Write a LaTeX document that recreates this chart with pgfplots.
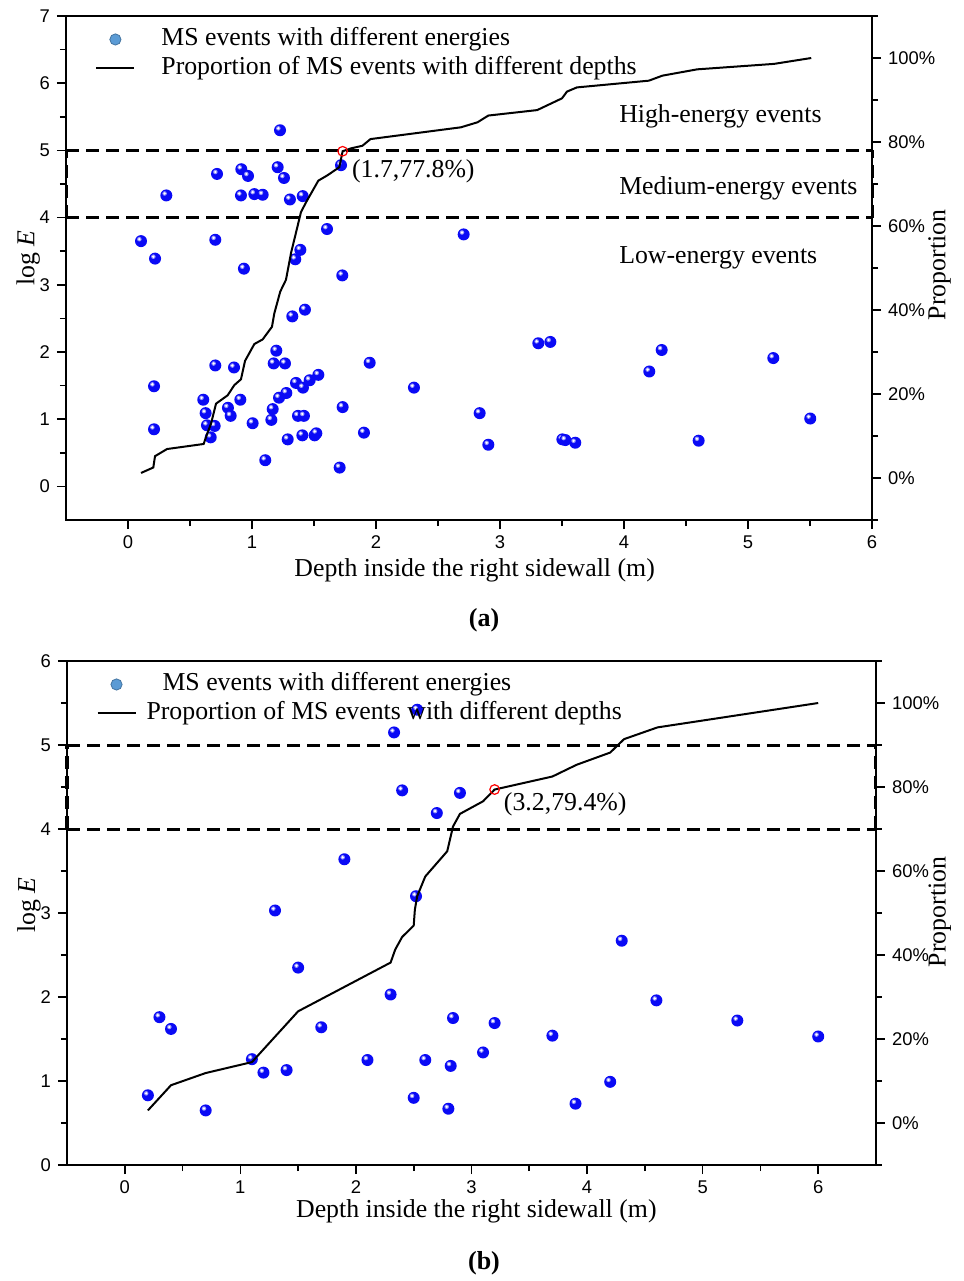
\documentclass[border=0pt]{standalone}
\usepackage{fontspec}
\setmainfont{Liberation Serif}
\newfontfamily\tickfont{Liberation Sans}
\usepackage{pgfplots}
\pgfplotsset{compat=1.18}
\definecolor{steelblue}{RGB}{91,155,213}
\definecolor{ballblue}{RGB}{10,10,245}
\newcommand{\txt}{\fontsize{12.9}{15}\selectfont}
\makeatletter
\pgfdeclareplotmark{sball}{%
  \pgfpathcircle{\pgfpointorigin}{\pgfplotmarksize}%
  \pgfsetfillcolor{ballblue}\pgfusepath{fill}%
  \pgfpathcircle{\pgfpoint{-0.28\pgfplotmarksize}{0.32\pgfplotmarksize}}{0.38\pgfplotmarksize}%
  \pgfsetfillcolor{ballblue!45!white}\pgfusepath{fill}%
  \pgfpathcircle{\pgfpoint{-0.28\pgfplotmarksize}{0.32\pgfplotmarksize}}{0.22\pgfplotmarksize}%
  \pgfsetfillcolor{white}\pgfusepath{fill}%
}
\makeatother
\pgfplotsset{
  base/.style={
    scale only axis,
    tick align=outside,
    /pgf/number format/assume math mode=true,
    tick label style={font=\tickfont\fontsize{9.2}{11}\selectfont, text=black},
    label style={font=\txt},
    axis line style={line width=0.8pt},
    major tick length=4.5pt, minor tick length=3pt,
    every tick/.style={black, line width=0.8pt},
  },
  balls/.style={only marks, mark=sball, mark size=3pt},
  thr/.style={black, line width=1.5pt, dash pattern=on 6.3pt off 3.7pt},
  leg/.style={legend style={at={(axis description cs:0.036,0.983)}, anchor=north west, draw=none, fill=none,
    font=\txt, inner sep=0pt, column sep=11.5pt, row sep=0pt, cells={anchor=west},
    nodes={inner sep=1.5pt, text height=9pt, text depth=2.5pt}}},
  scatimg/.style={legend image code/.code={\fill[fill=steelblue, draw=steelblue!75!black] (9.5pt,0pt) circle (2.8pt);}},
  lineimg/.style={legend image code/.code={\draw[black, line width=1pt] (0pt,0pt) -- (19pt,0pt);}},
}
\begin{document}
\begin{tikzpicture}
\useasboundingbox (0pt,0pt) rectangle (482pt,-640.5pt);
% ================= Panel (a) =================
\begin{axis}[base, at={(33pt,-260pt)}, anchor=south west, width=403pt, height=252pt,
  xmin=-0.5, xmax=6, ymin=-0.5, ymax=7, clip=false,
  xtick={0,...,6}, ytick={0,...,7}, minor x tick num=1, minor y tick num=1,
  xtick pos=left, ytick pos=left,
  xlabel={Depth inside the right sidewall (m)}, ylabel={log \textit{E}},
  xlabel style={at={(axis description cs:0.507,-0.099)}, anchor=center},
  ylabel style={at={(axis description cs:-0.047,0.52)}, anchor=center},
]
\addplot[balls] coordinates {
(0.105,3.65)(0.218,3.39)(0.309,4.33)(0.21,1.49)(0.21,0.85)
(0.607,1.29)(0.626,1.09)(0.637,0.91)(0.699,0.90)(0.667,0.73)
(0.704,3.67)(0.704,1.80)(0.718,4.65)(0.806,1.17)(0.828,1.05)(0.855,1.77)(0.906,1.29)(0.911,4.33)
(0.914,4.72)(0.935,3.24)(0.968,4.62)(1.005,0.94)(1.019,4.35)(1.086,4.34)(1.107,0.39)(1.156,0.99)
(1.167,1.15)(1.175,1.83)(1.196,2.02)(1.207,4.75)(1.218,1.32)(1.226,5.30)(1.258,4.59)(1.266,1.83)
(1.277,1.39)(1.288,0.70)(1.306,4.27)(1.325,2.53)(1.349,3.38)(1.355,1.54)(1.371,1.05)(1.390,3.52)
(1.406,0.76)(1.409,4.32)(1.411,1.47)(1.419,1.05)(1.427,2.63)(1.465,1.58)(1.505,0.76)(1.519,0.79)
(1.535,1.66)(1.605,3.83)(1.707,0.28)(1.718,4.78)(1.728,3.14)(1.731,1.18)(1.903,0.80)(1.949,1.84)
(2.306,1.47)(2.707,3.75)(2.836,1.09)(2.906,0.62)(3.309,2.13)(3.406,2.15)(3.503,0.70)(3.527,0.69)
(3.607,0.65)(4.204,1.71)(4.304,2.03)(4.602,0.68)(5.204,1.91)(5.502,1.01)
};
\addplot[thr] coordinates {(-0.5,5) (6,5)};
\addplot[thr] coordinates {(-0.5,4) (6,4)};
\addplot[thr] coordinates {(-0.5,4) (-0.5,5)};
\addplot[thr] coordinates {(6,4) (6,5)};
\node[anchor=west, font=\txt] at (axis cs:3.905,5.5) {High-energy events};
\node[anchor=west, font=\txt] at (axis cs:3.905,4.43) {Medium-energy events};
\node[anchor=west, font=\txt] at (axis cs:3.905,3.40) {Low-energy events};
\node[anchor=west, font=\txt] at (axis cs:1.75,4.69) {(1.7,77.8\%)};
\end{axis}
\begin{axis}[base, leg, at={(33pt,-260pt)}, anchor=south west, width=403pt, height=252pt,
  xmin=-0.5, xmax=6, ymin=-10, ymax=110,
  axis x line=none, axis y line*=right,
  ytick={0,20,...,100}, minor ytick={-10,10,30,50,70,90,110},
  yticklabel={\pgfmathprintnumber{\tick}\%},
  ylabel={Proportion},
  ylabel style={at={(axis description cs:1.084,0.506)}, anchor=center},
]
\addlegendimage{scatimg}
\addlegendentry{MS events with different energies}
\addplot[black, line width=1pt, lineimg] coordinates {
(0.105,1.2)(0.204,2.5)(0.218,5.2)(0.315,6.9)(0.61,8.1)(0.643,10.9)(0.669,12.9)(0.71,17.7)
(0.804,19.7)(0.857,22.1)(0.911,23.5)(0.944,27.9)(1.019,31.9)(1.086,33.0)(1.161,36.0)(1.18,39.2)
(1.228,44.4)(1.274,47.2)(1.315,53.6)(1.395,63.3)(1.435,65.6)(1.535,70.8)(1.61,72.1)(1.704,74.0)
(1.731,77.8)(1.80,78.5)(1.89,79.1)(1.956,80.7)(2.685,83.5)(2.819,84.7)(2.906,86.3)(3.30,87.6)
(3.50,90.4)(3.54,92.0)(3.62,93.0)(4.20,94.6)(4.31,95.8)(4.59,97.3)(5.21,98.6)(5.51,100)
};
\addlegendentry{Proportion of MS events with different depths}
\addplot[forget plot, only marks, mark=o, red, mark size=2.4pt, mark options={line width=0.6pt}] coordinates {(1.731,77.8)};
\end{axis}
\node[font=\bfseries\fontsize{13}{15}\selectfont] at (242pt,-310pt) {(a)};
% ================= Panel (b) =================
\begin{axis}[base, at={(33.5pt,-582.5pt)}, anchor=south west, width=404.5pt, height=252pt,
  xmin=-0.5, xmax=6.5, ymin=0, ymax=6, clip=false,
  xtick={0,...,6}, ytick={0,...,6}, minor x tick num=1, minor y tick num=1,
  xtick pos=left, ytick pos=left,
  xlabel={Depth inside the right sidewall (m)}, ylabel={log \textit{E}},
  xlabel style={at={(axis description cs:0.506,-0.091)}, anchor=center},
  ylabel style={at={(axis description cs:-0.047,0.516)}, anchor=center},
]
\addplot[balls] coordinates {
(2.53,5.42)(2.33,5.15)(2.40,4.46)(2.90,4.43)(2.70,4.19)(1.90,3.64)(2.52,3.20)(1.30,3.03)
(1.50,2.35)(2.30,2.03)(0.30,1.76)(0.40,1.62)(1.70,1.64)(2.84,1.75)(3.20,1.69)(1.10,1.26)
(1.20,1.10)(1.40,1.13)(2.10,1.25)(2.60,1.25)(2.82,1.18)(3.10,1.34)(0.20,0.83)(0.70,0.65)
(2.50,0.80)(2.80,0.67)(3.70,1.54)(3.90,0.73)(4.20,0.99)(4.30,2.67)(4.60,1.96)(5.30,1.72)(6.00,1.53)
};
\addplot[thr] coordinates {(-0.5,5) (6.5,5)};
\addplot[thr] coordinates {(-0.5,4) (6.5,4)};
\addplot[thr] coordinates {(-0.5,4) (-0.5,5)};
\addplot[thr] coordinates {(6.5,4) (6.5,5)};
\node[anchor=west, font=\txt] at (axis cs:3.22,4.29) {(3.2,79.4\%)};
\end{axis}
\begin{axis}[base, leg, at={(33.5pt,-582.5pt)}, anchor=south west, width=404.5pt, height=252pt,
  xmin=-0.5, xmax=6.5, ymin=-10, ymax=110,
  axis x line=none, axis y line*=right,
  ytick={0,20,...,100}, minor ytick={-10,10,30,50,70,90,110},
  yticklabel={\pgfmathprintnumber{\tick}\%},
  ylabel={Proportion},
  ylabel style={at={(axis description cs:1.079,0.502)}, anchor=center},
]
\addlegendimage{scatimg}
\addlegendentry{MS events with different energies}
\addplot[black, line width=1pt, lineimg] coordinates {
(0.2,3.0)(0.4,9.0)(0.7,11.9)(1.1,14.5)(1.5,26.6)(2.3,38.2)(2.34,41.3)(2.4,44.3)(2.5,47.0)
(2.51,50.8)(2.53,54.0)(2.6,58.7)(2.79,64.7)(2.84,70.6)(2.9,73.6)(3.1,76.6)(3.2,79.4)(3.7,82.5)
(3.91,85.3)(4.2,88.2)(4.32,91.4)(4.61,94.2)(6.0,100)
};
\addlegendentry{\hspace{-8pt}Proportion of MS events with different depths}
\addplot[forget plot, only marks, mark=o, red, mark size=2.4pt, mark options={line width=0.6pt}] coordinates {(3.2,79.4)};
\end{axis}
\node[font=\bfseries\fontsize{13}{15}\selectfont] at (242pt,-631.5pt) {(b)};
\end{tikzpicture}
\end{document}
